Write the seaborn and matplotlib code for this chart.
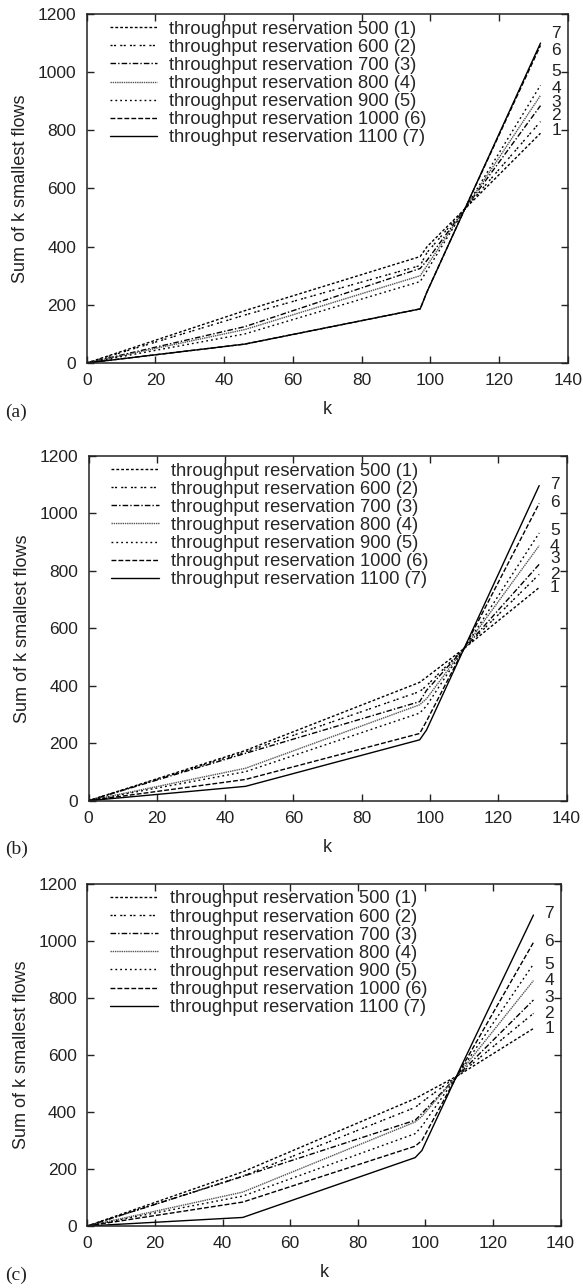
import pandas as pd
import matplotlib
matplotlib.use("Agg")
import matplotlib.pyplot as plt
import seaborn as sns

# --------------------------------------------------
# Data
# --------------------------------------------------
k_pts = [0, 46, 97, 99, 110, 132]
reservations = [500, 600, 700, 800, 900, 1000, 1100]
series_ids = ["1", "2", "3", "4", "5", "6", "7"]

# sum of k smallest flows, one row per reservation level
sums_a = [
    [0, 180, 366, 400, 530, 790],
    [0, 165, 335, 380, 530, 830],
    [0, 125, 325, 353, 530, 885],
    [0, 115, 300, 335, 530, 920],
    [0, 100, 280, 318, 530, 955],
    [0, 65, 186, 245, 530, 1092],
    [0, 65, 186, 245, 530, 1100],
]
sums_b = [
    [0, 175, 412, 430, 530, 742],
    [0, 170, 380, 400, 530, 788],
    [0, 165, 345, 384, 530, 823],
    [0, 113, 334, 355, 530, 888],
    [0, 101, 305, 330, 530, 932],
    [0, 74, 234, 277, 530, 1035],
    [0, 50, 212, 246, 530, 1097],
]
sums_c = [
    [0, 190, 447, 460, 530, 693],
    [0, 175, 416, 435, 531, 746],
    [0, 174, 371, 395, 533, 793],
    [0, 119, 365, 385, 535, 861],
    [0, 105, 324, 350, 537, 919],
    [0, 84, 280, 300, 540, 995],
    [0, 30, 240, 265, 545, 1091],
]

# y positions of the curve numbers at the right edge
label_y_a = [798, 850, 897, 945, 1003, 1076, 1132]
label_y_b = [741, 787, 842, 886, 941, 1037, 1101]
label_y_c = [693, 746, 802, 861, 916, 998, 1097]

panels = [("(a)", sums_a, label_y_a), ("(b)", sums_b, label_y_b), ("(c)", sums_c, label_y_c)]

# --------------------------------------------------
# Style
# --------------------------------------------------
sns.set_theme(style="ticks")
plt.rcParams["font.family"] = ["Liberation Sans", "DejaVu Sans"]

dash_map = {
    "1": (2, 1.5),
    "2": (1.5, 1, 1.5, 3),
    "3": (4, 1.5, 1, 1.5),
    "4": (1, 0.6),
    "5": (1.3, 2.2),
    "6": (3.5, 1.5),
    "7": "",
}
color_map = {s: "black" for s in series_ids}
color_map["4"] = "#555555"

W, H = 583, 1288
fig = plt.figure(figsize=(W / 100, H / 100), dpi=100)

# axes boxes in pixels: left, right, top, bottom
boxes = [(86.7, 568, 14, 363), (88.5, 566.5, 456, 800.7), (87.3, 560.5, 884, 1226)]

for (tag, sums, label_y), (l, r, t, b) in zip(panels, boxes):
    ax = fig.add_axes([l / W, 1 - b / H, (r - l) / W, (b - t) / H])

    rows = []
    for sid, vals in zip(series_ids, sums):
        for k, v in zip(k_pts, vals):
            rows.append({"k": k, "sum": v, "series": sid})
    df = pd.DataFrame(rows)

    sns.lineplot(
        data=df, x="k", y="sum", hue="series", style="series",
        hue_order=series_ids, style_order=series_ids,
        palette=color_map, dashes=dash_map, estimator=None,
        linewidth=1.0, legend=False, ax=ax,
    )

    labels = [f"throughput reservation {r_} ({s})" for r_, s in zip(reservations, series_ids)]
    ax.legend(
        handles=ax.lines[:7], labels=labels, loc="upper left",
        bbox_to_anchor=(0.048, 0.981), frameon=False, fontsize=13.2,
        handlelength=2.6, handletextpad=0.65, labelspacing=0.06,
        borderpad=0, borderaxespad=0,
    )

    for sid, y in zip(series_ids, label_y):
        ax.text(136.6, y, sid, ha="center", va="center", fontsize=12.5, color="#222222")

    ax.set_xlim(0, 140)
    ax.set_ylim(0, 1200)
    ax.set_xticks(range(0, 141, 20))
    ax.set_yticks(range(0, 1201, 200))
    ax.tick_params(direction="in", top=True, right=True, length=5, width=1,
                   labelsize=12.5, pad=7.5, colors="#222222")
    for sp in ax.spines.values():
        sp.set_linewidth(1.1)
        sp.set_color("#222222")
    ax.set_xlabel("k", fontsize=13, labelpad=9, color="#222222")
    ax.set_ylabel("Sum of k smallest flows", fontsize=13, labelpad=6, color="#222222")

    fig.text(5 / W, 1 - (b + 49) / H, tag, ha="left", va="center",
             fontsize=14, family=["Liberation Serif", "DejaVu Serif"], color="#222222")

fig.savefig("out.png", dpi=100)
